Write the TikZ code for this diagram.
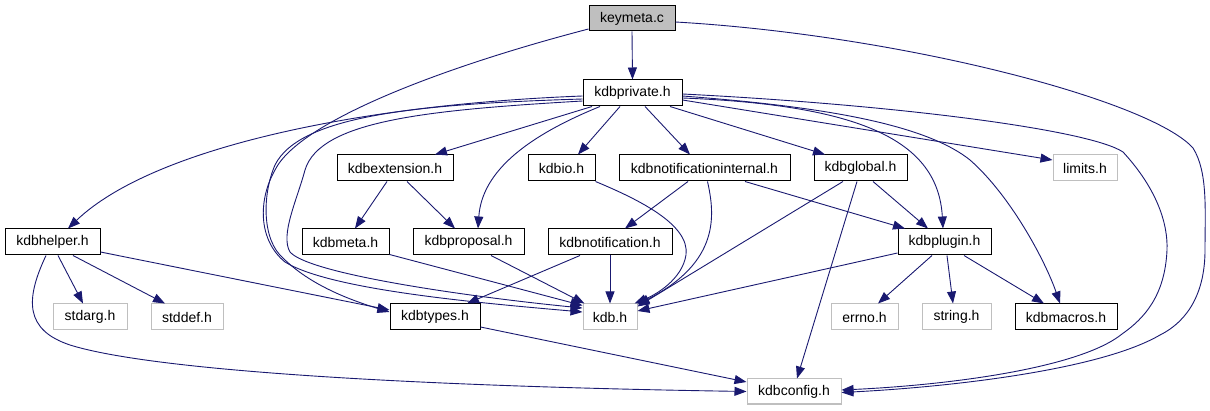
\documentclass[tikz,border=0pt]{standalone}
\usepackage{fontspec}
\setmainfont{Liberation Sans}
\usetikzlibrary{arrows.meta}
\definecolor{edgeblue}{HTML}{191970}
\definecolor{lightgr}{HTML}{BFBFBF}
\begin{document}
\begin{tikzpicture}[x=1pt,y=-1pt,
  box/.style={draw=black,line width=1pt,fill=white,inner sep=0pt,minimum height=26pt,font=\fontsize{14pt}{16pt}\selectfont},
  sysbox/.style={box,draw=lightgr},
  mainbox/.style={box,fill=lightgr},
  dep/.style={draw=edgeblue,line width=0.9pt,-{Triangle[length=12pt,width=9pt]},fill=none}]
\useasboundingbox (0,0) rectangle (1210,411);
% nodes
\node[mainbox,minimum width=86pt,minimum height=25pt] (keymeta) at (632,18.5) {keymeta.c};
\node[box,minimum width=99pt] (kdbprivate) at (632.5,93) {kdbprivate.h};
\node[box,minimum width=116pt] (kdbextension) at (395,168) {kdbextension.h};
\node[box,minimum width=67pt] (kdbio) at (561.5,168) {kdbio.h};
\node[box,minimum width=171pt] (kdbni) at (704.5,168) {kdbnotificationinternal.h};
\node[box,minimum width=93pt] (kdbglobal) at (860.5,168) {kdbglobal.h};
\node[sysbox,minimum width=64pt] (limits) at (1085,168) {limits.h};
\node[box,minimum width=95pt] (kdbhelper) at (52.5,242) {kdbhelper.h};
\node[box,minimum width=87pt] (kdbmeta) at (345.5,242) {kdbmeta.h};
\node[box,minimum width=111pt] (kdbproposal) at (468.5,242) {kdbproposal.h};
\node[box,minimum width=124pt] (kdbnotification) at (610,242) {kdbnotification.h};
\node[box,minimum width=93pt] (kdbplugin) at (944.5,242) {kdbplugin.h};
\node[sysbox,minimum width=74pt] (stdarg) at (90,317) {stdarg.h};
\node[sysbox,minimum width=72pt] (stddef) at (187,317) {stddef.h};
\node[box,minimum width=90pt] (kdbtypes) at (435,317) {kdbtypes.h};
\node[sysbox,minimum width=54pt] (kdb) at (610,317) {kdb.h};
\node[sysbox,minimum width=67pt] (errno) at (864.5,317) {errno.h};
\node[sysbox,minimum width=69pt] (string) at (956.5,317) {string.h};
\node[box,minimum width=102pt] (kdbmacros) at (1066,317) {kdbmacros.h};
\node[sysbox,minimum width=94pt,minimum height=25pt] (kdbconfig) at (794,391.5) {kdbconfig.h};
% edges from keymeta.c
\draw[dep] (keymeta.south) -- (kdbprivate.north);
\draw[dep] ([shift={(0,10.5)}]keymeta.west) .. controls (450,65) and (300,120) .. (275,170)
  .. controls (258,200) and (258,240) .. (285,262)
  .. controls (330,290) and (480,303) .. ([shift={(0,-5)}]kdb.west);
\draw[dep] ([shift={(0,3.5)}]keymeta.east) .. controls (900,35) and (1150,100) .. (1193,148)
  .. controls (1208,172) and (1205,210) .. (1205,250)
  .. controls (1205,290) and (1190,320) .. (1160,335)
  .. controls (1100,370) and (950,387) .. ([shift={(0,1)}]kdbconfig.east);
% edges from kdbprivate.h
\draw[dep] ([shift={(0,6)}]kdbprivate.west) .. controls (420,104) and (300,115) .. (275,165)
  .. controls (262,195) and (262,240) .. (283,258)
  .. controls (310,285) and (350,300) .. ([shift={(0,-5)}]kdbtypes.west);
\draw[dep] ([shift={(0,8)}]kdbprivate.west) .. controls (430,110) and (320,120) .. (305,170)
  .. controls (297,200) and (280,235) .. (290,252)
  .. controls (310,275) and (480,298) .. ([shift={(0,-9)}]kdb.west);
\draw[dep] ([shift={(0,3)}]kdbprivate.west) .. controls (350,105) and (150,150) .. ([shift={(15.5,0)}]kdbhelper.north);
\draw[dep] ([shift={(-40.5,0)}]kdbprivate.south) -- ([shift={(40,0)}]kdbextension.north);
\draw[dep] ([shift={(-32.5,0)}]kdbprivate.south) .. controls (530,135) and (482,170) .. ([shift={(9.5,0)}]kdbproposal.north);
\draw[dep] ([shift={(-12.5,0)}]kdbprivate.south) -- ([shift={(16.5,0)}]kdbio.north);
\draw[dep] ([shift={(12.5,0)}]kdbprivate.south) -- ([shift={(-14.5,0)}]kdbni.north);
\draw[dep] ([shift={(37.5,0)}]kdbprivate.south) -- ([shift={(-35.5,0)}]kdbglobal.north);
\draw[dep] ([shift={(0,7)}]kdbprivate.east) -- ([shift={(0,-8)}]limits.west);
\draw[dep] ([shift={(0,5)}]kdbprivate.east) .. controls (860,105) and (938,140) .. ([shift={(-1.5,0)}]kdbplugin.north);
\draw[dep] ([shift={(0,3)}]kdbprivate.east) .. controls (800,105) and (920,120) .. (970,160)
  .. controls (1010,195) and (1045,260) .. ([shift={(-6,0)}]kdbmacros.north);
\draw[dep] ([shift={(0,1)}]kdbprivate.east) .. controls (900,105) and (1090,130) .. (1123,152)
  .. controls (1158,190) and (1168,225) .. (1167,250)
  .. controls (1165,295) and (1145,318) .. (1122,334)
  .. controls (1080,368) and (950,385) .. ([shift={(0,-1.5)}]kdbconfig.east);
% second level
\draw[dep] ([shift={(-8,0)}]kdbextension.south) -- ([shift={(9.5,0)}]kdbmeta.north);
\draw[dep] ([shift={(12,0)}]kdbextension.south) -- ([shift={(-13.5,0)}]kdbproposal.north);
\draw[dep] ([shift={(0,-1)}]kdbmeta.south east) -- ([shift={(0,2)}]kdb.north west);
\draw[dep] ([shift={(22.5,0)}]kdbproposal.south) -- ([shift={(2,0)}]kdb.north west);
\draw[dep] (kdbnotification.south) -- (kdb.north);
\draw[dep] ([shift={(-30,0)}]kdbnotification.south) -- ([shift={(32,0)}]kdbtypes.north);
\draw[dep] (kdbio.south east) .. controls (640,200) and (690,225) .. (686,255)
  .. controls (682,280) and (655,295) .. ([shift={(-3,0)}]kdb.north east);
\draw[dep] ([shift={(3,0)}]kdbni.south) .. controls (715,215) and (720,262) .. ([shift={(0,1)}]kdb.north east);
\draw[dep] ([shift={(-16.5,0)}]kdbni.south) -- ([shift={(15,0)}]kdbnotification.north);
\draw[dep] ([shift={(40.5,0)}]kdbni.south) -- ([shift={(-39.5,0)}]kdbplugin.north);
\draw[dep] ([shift={(-17.5,0)}]kdbglobal.south) -- ([shift={(0,3)}]kdb.north east);
\draw[dep] ([shift={(-3.5,0)}]kdbglobal.south) -- ([shift={(3,0)}]kdbconfig.north);
\draw[dep] ([shift={(12.5,0)}]kdbglobal.south) -- ([shift={(-16.5,0)}]kdbplugin.north);
\draw[dep] ([shift={(0,11)}]kdbplugin.west) -- ([shift={(0,-6)}]kdb.east);
\draw[dep] ([shift={(-12.5,0)}]kdbplugin.south) -- ([shift={(13.5,0)}]errno.north);
\draw[dep] ([shift={(2.5,0)}]kdbplugin.south) -- ([shift={(-3.5,0)}]string.north);
\draw[dep] ([shift={(19.5,0)}]kdbplugin.south) -- ([shift={(-22,0)}]kdbmacros.north);
\draw[dep] ([shift={(5.5,0)}]kdbhelper.south) -- ([shift={(-7,0)}]stdarg.north);
\draw[dep] ([shift={(20.5,0)}]kdbhelper.south) -- ([shift={(-22,0)}]stddef.north);
\draw[dep] ([shift={(0,10)}]kdbhelper.east) -- ([shift={(0,-7)}]kdbtypes.west);
\draw[dep] ([shift={(-6.5,0)}]kdbhelper.south) .. controls (25,300) and (25,330) .. (70,345)
  .. controls (150,370) and (400,386) .. (kdbconfig.west);
\draw[dep] ([shift={(0,10)}]kdbtypes.east) -- ([shift={(0,-9.5)}]kdbconfig.west);
\end{tikzpicture}
\end{document}
